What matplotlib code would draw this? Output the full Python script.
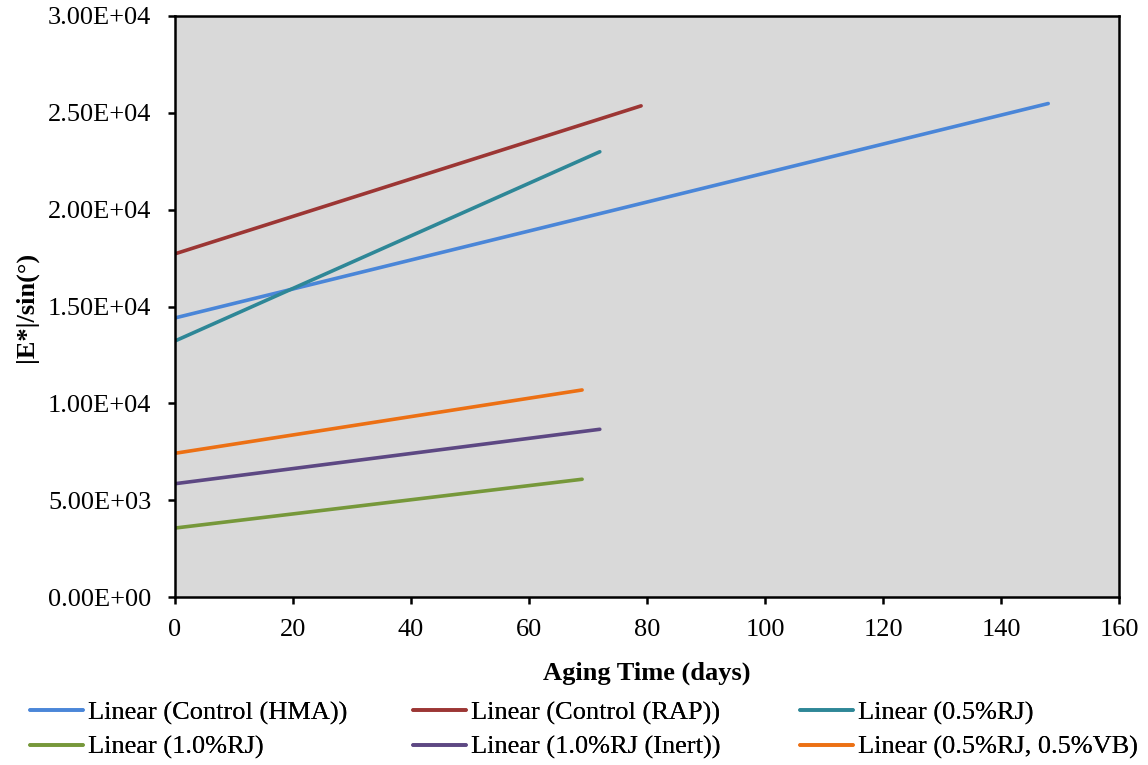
import matplotlib
matplotlib.use("Agg")
import matplotlib.pyplot as plt
from matplotlib.ticker import FuncFormatter

plt.rcParams['font.family'] = ['Liberation Serif', 'DejaVu Serif']

# Linear trend lines: aging time (days) start/end and |E*|/sin(delta) start/end
series_names = [
    "Linear (Control (HMA))",
    "Linear (Control (RAP))",
    "Linear (0.5%RJ)",
    "Linear (1.0%RJ)",
    "Linear (1.0%RJ (Inert))",
    "Linear (0.5%RJ, 0.5%VB)",
]
series_days = [
    [0, 148],
    [0, 79],
    [0, 72],
    [0, 69],
    [0, 72],
    [0, 69],
]
series_values = [
    [14410, 25480],
    [17720, 25360],
    [13220, 22990],
    [3560, 6080],
    [5850, 8660],
    [7420, 10690],
]
series_colors = ["#4a86d8", "#9c3634", "#2e8797", "#76983a", "#5d4883", "#ec7014"]

x_ticks = [0, 20, 40, 60, 80, 100, 120, 140, 160]
y_ticks = [0, 5000, 10000, 15000, 20000, 25000, 30000]

FS = 19
W, H = 1148, 765

fig = plt.figure(figsize=(W / 100, H / 100), dpi=100)
ax = fig.add_axes([175 / W, 1 - 597 / H, (1119 - 175) / W, (597 - 16) / H])
ax.set_facecolor("#d9d9d9")

handles = []
for name, xs, ys, c in zip(series_names, series_days, series_values, series_colors):
    ln, = ax.plot(xs, ys, color=c, lw=2.6, label=name, solid_capstyle='round')
    handles.append(ln)

ax.set_xlim(0, 160)
ax.set_ylim(0, 30000)
ax.set_xticks(x_ticks)
ax.set_yticks(y_ticks)
ax.yaxis.set_major_formatter(FuncFormatter(lambda v, p: "{:.2E}".format(v)))
ax.tick_params(axis='both', direction='out', length=5, width=1.8,
               labelsize=FS, colors='black')
ax.tick_params(axis='y', pad=12)
ax.tick_params(axis='x', pad=11)
for s in ax.spines.values():
    s.set_linewidth(1.8)
    s.set_color('black')

ax.set_xlabel("Aging Time (days)", fontsize=FS, fontweight='bold', labelpad=15)
ax.set_ylabel("|E*|/sin(°)", fontsize=FS, fontweight='bold', labelpad=7)

# Legend laid out as three columns of two rows beneath the axes
col_left_px = [30, 413, 800]
for col, xpx in enumerate(col_left_px):
    idx = [col, col + 3]
    lg = fig.legend([handles[i] for i in idx], [series_names[i] for i in idx],
                    loc='upper left', bbox_to_anchor=(xpx / W, 1 - 701 / H),
                    frameon=False, fontsize=FS, handlelength=2.0,
                    handletextpad=0.2, labelspacing=0.4,
                    borderpad=0, borderaxespad=0)
    fig.add_artist(lg)

fig.savefig("out.png", dpi=100)
